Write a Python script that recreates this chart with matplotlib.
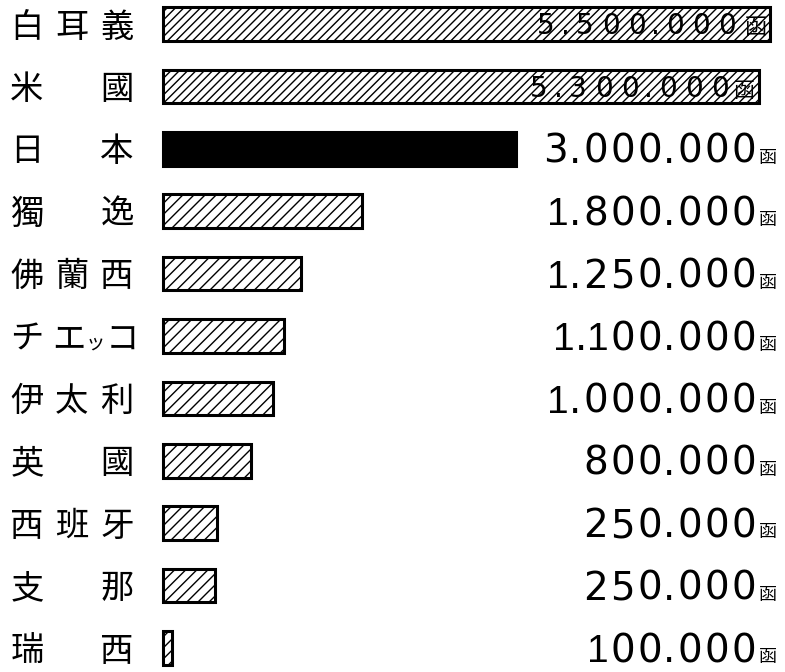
import matplotlib
matplotlib.use("Agg")
import matplotlib.pyplot as plt

# country names (2-char names are spread over 3 columns like the original)
countries = ["白耳義", "米國", "日本", "獨逸", "佛蘭西", "チエッコ",
             "伊太利", "英國", "西班牙", "支那", "瑞西"]
# amounts as printed
amounts = ["5.500.000", "5.300.000", "3.000.000", "1.800.000", "1.250.000",
           "1.100.000", "1.000.000", "800.000", "250.000", "250.000", "100.000"]
# bar lengths as drawn in the picture (thousands)
bar_lengths = [5500, 5400, 3200, 1800, 1250, 1100, 1000, 800, 490, 470, 80]
unit = "函"

plt.rcParams["hatch.linewidth"] = 1.0

W, H = 785, 672
fig = plt.figure(figsize=(W / 100, H / 100), dpi=100)
fig.patch.set_facecolor("white")

# axes: bars start at x=163px, 0.11036 px per thousand; rows every 62.4px from y=24px
ax = fig.add_axes([163 / W, 0, (W - 163) / W, 1])
ax.set_xlim(0, (W - 163) / 0.11036)
ax.set_ylim((H - 24) / 62.4, -24 / 62.4)
ax.axis("off")

n = len(countries)
for i in range(n):
    if i == 2:
        fc, hatch = "black", None
    elif i < 2:
        fc, hatch = "white", "////"
    else:
        fc, hatch = "white", "///"
    ax.barh(i, bar_lengths[i], height=0.54, left=0, color=fc,
            edgecolor="black", linewidth=2.2, hatch=hatch, clip_on=False)


def put(text, xpx, y, size, family, ha="center", dy=0.0):
    ax.annotate(text, xy=(xpx, y), xycoords=("figure pixels", "data"),
                xytext=(0, dy), textcoords="offset points",
                ha=ha, va="baseline", fontsize=size, family=family, color="black")


# left labels, placed column by column
cjk = ["Noto Sans CJK JP", "DejaVu Sans"]
for i, name in enumerate(countries):
    if len(name) == 2:
        cols = [27, 117]
    elif len(name) == 3:
        cols = [27, 72, 117]
    else:
        cols = [27, 69, 95.5, 122]
    for ch, cx in zip(name, cols):
        fs = 14 if ch == "ッ" else 24
        put(ch, cx, i, fs, cjk, dy=-0.38 * 24)


# amount text, character by character for the wide old-style spacing
def draw_amount(i, text, right, d, fs, ufs, uright):
    adv = []
    for ch in text:
        if ch == ".":
            adv.append(0.48 * d)
        elif ch == "1":
            adv.append(0.8 * d)
        else:
            adv.append(d)
    x = right - sum(adv)
    for ch, a in zip(text, adv):
        fam = "Liberation Sans" if ch == "1" else "DejaVu Sans"
        put(ch, x + a / 2, i, fs, fam, dy=-0.365 * fs)
        x += a
    put(unit, uright, i, ufs, cjk, ha="right", dy=-0.365 * fs)


for i, txt in enumerate(amounts):
    if i == 0:
        draw_amount(i, txt, 740, 26, 20, 16, 767)
    elif i == 1:
        draw_amount(i, txt, 733, 26, 20, 15, 755)
    else:
        draw_amount(i, txt, 757, 27, 28, 13, 777)

fig.savefig("out.png", dpi=100, facecolor="white")
